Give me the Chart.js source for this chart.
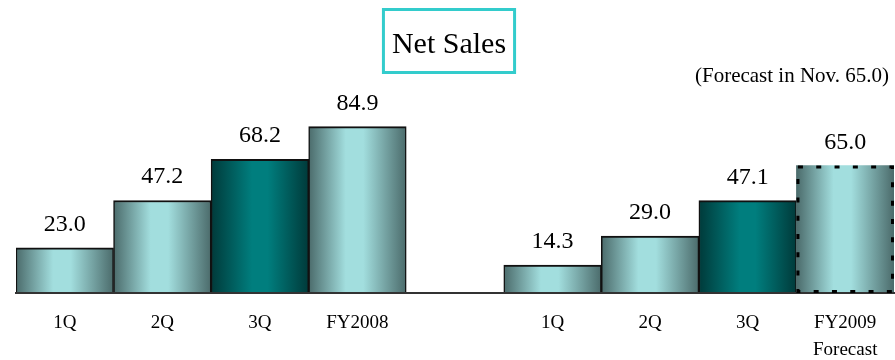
<!DOCTYPE html>
<html>
<head>
<meta charset="utf-8">
<script src="https://cdn.jsdelivr.net/npm/chart.js@4"></script>
<style>
html,body{margin:0;padding:0;background:#fff;}
#wrap{width:895px;height:360px;position:relative;}
</style>
</head>
<body>
<div id="wrap"><canvas id="c" width="895" height="360"></canvas></div>
<script>
// ---- data ----
const chartTitle = 'Net Sales';
const forecastNote = '(Forecast in Nov. 65.0)';
const categories = ['1Q', '2Q', '3Q', 'FY2008', '', '1Q', '2Q', '3Q', ['FY2009', 'Forecast']];
const netSales = [23.0, 47.2, 68.2, 84.9, null, 14.3, 29.0, 47.1, 65.0];

// ---- helpers ----
const SERIF = '"Liberation Serif", "Times New Roman", serif';
const isQ3 = i => categories[i] === '3Q';
const isForecast = i => Array.isArray(categories[i]) && categories[i].includes('Forecast');

function barFill(ctx) {
  const chart = ctx.chart;
  const area = chart.chartArea;
  const i = ctx.dataIndex;
  if (!area || ctx.type !== 'data') return '#8cc';
  const xs = chart.scales.x;
  const cx = xs.getPixelForValue(i);
  const half = xs.width / categories.length / 2;
  const g = chart.ctx.createLinearGradient(cx - half, 0, cx + half, 0);
  if (isQ3(i)) {
    g.addColorStop(0, '#003a3a');
    g.addColorStop(0.42, '#007e7e');
    g.addColorStop(0.58, '#007e7e');
    g.addColorStop(1, '#003a3a');
  } else {
    g.addColorStop(0, '#4b6b6b');
    g.addColorStop(0.38, '#a2dede');
    g.addColorStop(0.56, '#a2dede');
    g.addColorStop(1, '#4b6b6b');
  }
  return g;
}

const decor = {
  id: 'decor',
  afterDraw(chart) {
    const ctx = chart.ctx;
    const meta = chart.getDatasetMeta(0);
    ctx.save();
    // value labels
    ctx.font = '24px ' + SERIF;
    ctx.fillStyle = '#000';
    ctx.textAlign = 'center';
    ctx.textBaseline = 'alphabetic';
    meta.data.forEach((el, i) => {
      const v = netSales[i];
      if (v == null) return;
      ctx.fillText(v.toFixed(1), el.x, el.y - 17);
    });
    // dashed outline for forecast bar
    meta.data.forEach((el, i) => {
      if (!isForecast(i) || netSales[i] == null) return;
      ctx.setLineDash([5, 13.3]);
      ctx.lineWidth = 3;
      ctx.strokeStyle = '#000';
      const l = el.x - el.width / 2;
      ctx.strokeRect(l + 1.5, el.y + 1.5, el.width - 3, el.base - el.y - 3);
    });
    ctx.setLineDash([]);
    // title in a box
    const cx = chart.width / 2 + 1.5;
    ctx.font = '30px ' + SERIF;
    const tw = ctx.measureText(chartTitle).width;
    ctx.fillText(chartTitle, cx, 53);
    ctx.lineWidth = 3;
    ctx.strokeStyle = '#33cccc';
    ctx.strokeRect(cx - tw / 2 - 8.5, 9.5, tw + 17, 63);
    // forecast note
    ctx.font = '21px ' + SERIF;
    ctx.textAlign = 'right';
    ctx.fillText(forecastNote, 889, 82);
    ctx.restore();
  }
};

new Chart(document.getElementById('c'), {
  type: 'bar',
  data: {
    labels: categories,
    datasets: [{
      data: netSales,
      backgroundColor: barFill,
      borderColor: '#111',
      borderWidth: ctx => isForecast(ctx.dataIndex) ? 0 : {top: 2, left: 1.5, right: 1.5, bottom: 0},
      borderSkipped: 'start',
      barPercentage: 1,
      categoryPercentage: 1
    }]
  },
  options: {
    responsive: false,
    devicePixelRatio: 1,
    animation: false,
    layout: {padding: {top: 97, left: 16, right: 1, bottom: 0}},
    plugins: {legend: {display: false}, tooltip: {enabled: false}, title: {display: false}},
    scales: {
      y: {display: false, min: 0, max: 100},
      x: {
        grid: {display: false, drawTicks: false},
        border: {display: true, color: '#333', width: 2, z: 1},
        ticks: {
          color: '#000',
          padding: 17,
          maxRotation: 0,
          autoSkip: false,
          font: {family: SERIF, size: 19, lineHeight: 1.42}
        },
        afterFit: s => { s.height = 67; }
      }
    }
  },
  plugins: [decor]
});
</script>
</body>
</html>
